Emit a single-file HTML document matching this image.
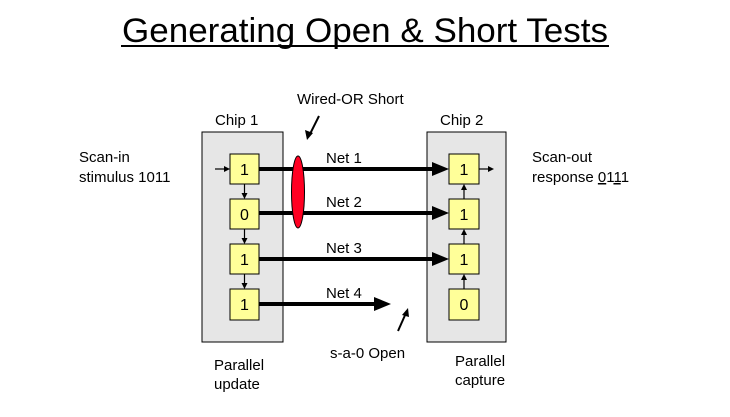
<!DOCTYPE html><html><head><style>body{margin:0;background:#fff}</style></head><body>
<svg width="730" height="412" xmlns="http://www.w3.org/2000/svg" font-family="Liberation Sans, Arial, sans-serif">
<text x="365" y="42" font-size="34" text-anchor="middle" textLength="486" lengthAdjust="spacingAndGlyphs">Generating Open &amp; Short Tests</text>
<line x1="121" y1="46" x2="609" y2="46" stroke="#000" stroke-width="2"/>
<rect x="202" y="132" width="81" height="210" fill="#e6e6e6" stroke="#000"/>
<rect x="427" y="132" width="79" height="210" fill="#e6e6e6" stroke="#000"/>
<g fill="#ffff99" stroke="#000">
<rect x="230" y="154" width="29" height="30"/><rect x="230" y="199" width="29" height="30"/>
<rect x="230" y="244" width="29" height="30"/><rect x="230" y="289" width="29" height="31"/>
<rect x="449" y="154" width="30" height="30"/><rect x="449" y="199" width="30" height="30"/>
<rect x="449" y="244" width="30" height="30"/><rect x="449" y="289" width="30" height="31"/>
</g>
<g font-size="16" text-anchor="middle">
<text x="244.5" y="175">1</text><text x="244.5" y="220">0</text><text x="244.5" y="265">1</text><text x="244.5" y="310">1</text>
<text x="464" y="175">1</text><text x="464" y="220">1</text><text x="464" y="265">1</text><text x="464" y="310">0</text>
</g>
<g stroke="#000" stroke-width="4">
<line x1="259" y1="169" x2="434" y2="169"/><line x1="259" y1="213" x2="434" y2="213"/>
<line x1="259" y1="259" x2="434" y2="259"/><line x1="259" y1="304" x2="376" y2="304"/>
</g>
<g fill="#000">
<polygon points="449,169 432,162 432,176"/><polygon points="449,213 432,206 432,220"/>
<polygon points="449,259 432,252 432,266"/><polygon points="391,304 374,297 374,311"/>
</g>
<g stroke="#000" stroke-width="1.2">
<line x1="215" y1="169" x2="225" y2="169"/><line x1="479" y1="169" x2="488" y2="169"/>
<line x1="244.5" y1="184" x2="244.5" y2="193"/><line x1="244.5" y1="229" x2="244.5" y2="238"/><line x1="244.5" y1="274" x2="244.5" y2="283"/>
<line x1="464" y1="199" x2="464" y2="190"/><line x1="464" y1="244" x2="464" y2="235"/><line x1="464" y1="289" x2="464" y2="280"/>
<line x1="319" y1="116" x2="309" y2="136" stroke-width="2"/><line x1="406" y1="313" x2="398" y2="331" stroke-width="2"/>
</g>
<g fill="#000">
<polygon points="230,169 224,166 224,172"/><polygon points="494,169 488,166 488,172"/>
<polygon points="244.5,199 241.5,193 247.5,193"/><polygon points="244.5,244 241.5,238 247.5,238"/><polygon points="244.5,289 241.5,283 247.5,283"/>
<polygon points="464,184 461,190 467,190"/><polygon points="464,229 461,235 467,235"/><polygon points="464,274 461,280 467,280"/>
<polygon points="307,140 305,130 313,133"/><polygon points="408,308 402,315 409,317"/>
</g>
<ellipse cx="298" cy="192" rx="6.5" ry="36" fill="#ff0022" stroke="#000"/>
<g font-size="15">
<text x="215" y="125">Chip 1</text><text x="440" y="125">Chip 2</text>
<text x="297" y="104">Wired-OR Short</text>
<text x="79" y="162">Scan-in</text><text x="79" y="182">stimulus 1011</text>
<text x="532" y="162">Scan-out</text><text x="532" y="182">response <tspan text-decoration="underline">0</tspan>1<tspan text-decoration="underline">1</tspan>1</text>
<text x="326" y="163">Net 1</text><text x="326" y="207">Net 2</text><text x="326" y="253">Net 3</text><text x="326" y="298">Net 4</text>
<text x="330" y="358">s-a-0 Open</text>
<text x="214" y="370">Parallel</text><text x="214" y="389">update</text>
<text x="455" y="366">Parallel</text><text x="455" y="385">capture</text>
</g>
</svg></body></html>
